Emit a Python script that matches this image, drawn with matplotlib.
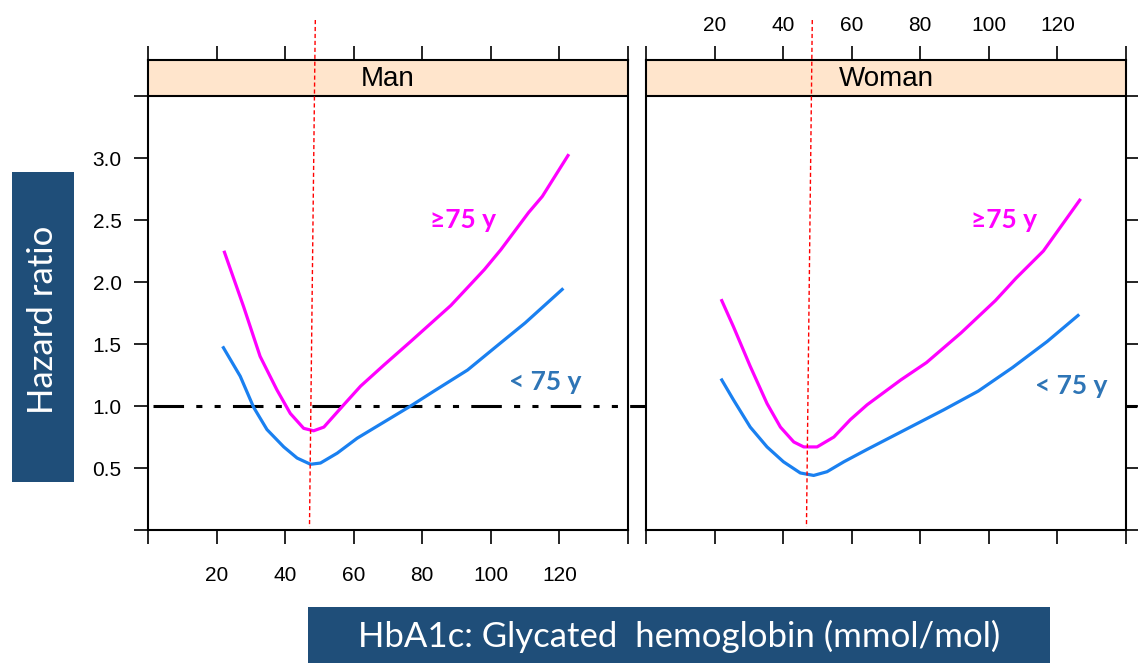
import matplotlib
matplotlib.use("Agg")
import matplotlib.pyplot as plt
import matplotlib.transforms as mtransforms
from matplotlib.patches import Rectangle
from matplotlib.lines import Line2D

# --- data ---
panels = ["Man", "Woman"]

man_old_x = [22.3, 27.9, 32.7, 37.6, 41.5, 45.4, 48.3, 51.3, 57.1, 62.0, 68.8, 76.6, 88.3, 98.1, 102.9, 111.0, 115.0, 122.5]
man_old_y = [2.24, 1.80, 1.40, 1.13, 0.94, 0.82, 0.80, 0.83, 1.01, 1.16, 1.33, 1.52, 1.81, 2.10, 2.26, 2.56, 2.69, 3.02]
man_young_x = [22.0, 26.9, 30.8, 34.7, 39.6, 43.5, 47.4, 50.3, 55.2, 61.0, 68.8, 76.6, 83.4, 93.2, 102.9, 110.0, 120.8]
man_young_y = [1.47, 1.24, 0.99, 0.81, 0.67, 0.58, 0.53, 0.54, 0.62, 0.74, 0.87, 1.00, 1.12, 1.29, 1.51, 1.67, 1.94]

woman_old_x = [22.1, 25.5, 30.4, 35.3, 39.2, 43.1, 46.0, 49.9, 54.8, 59.6, 64.5, 74.3, 81.8, 91.9, 101.9, 107.9, 115.9, 126.5]
woman_old_y = [1.85, 1.64, 1.32, 1.02, 0.83, 0.71, 0.67, 0.67, 0.75, 0.89, 1.01, 1.21, 1.35, 1.59, 1.85, 2.03, 2.25, 2.66]
woman_young_x = [22.1, 25.5, 30.4, 35.3, 40.1, 45.0, 48.9, 52.8, 57.7, 64.5, 74.3, 86.9, 96.9, 106.9, 117.0, 126.0]
woman_young_y = [1.21, 1.05, 0.83, 0.67, 0.55, 0.46, 0.44, 0.47, 0.55, 0.65, 0.79, 0.97, 1.12, 1.31, 1.52, 1.73]

# red reference lines (top x, bottom x), slightly slanted in the original
ref_lines = [(48.8, 47.1), (48.5, 46.8)]

old_label_pos = [(91.8, 2.5), (104.4, 2.5)]
young_label_pos = [(115.8, 1.19), (124.0, 1.16)]

xticks = [0, 20, 40, 60, 80, 100, 120, 140]
xticklabels = ["", "20", "40", "60", "80", "100", "120", ""]
yticks = [0, 0.5, 1.0, 1.5, 2.0, 2.5, 3.0, 3.5]
yticklabels = ["", "0.5", "1.0", "1.5", "2.0", "2.5", "3.0", ""]

W, H = 1138, 663
fig = plt.figure(figsize=(W / 100, H / 100), dpi=100)

magenta = "#FF00FF"
blue = "#1A80F0"
label_blue = "#2E75B6"
box_blue = "#1F4E79"
strip_col = "#FFE5CC"

def fx(px):
    return px / W

def fy(py):
    return 1 - py / H

ax1 = fig.add_axes([fx(148), fy(530), fx(628) - fx(148), fy(60) - fy(530)])
ax2 = fig.add_axes([fx(646), fy(530), fx(1126) - fx(646), fy(60) - fy(530)])
axes = [ax1, ax2]

curves = [
    (man_old_x, man_old_y, man_young_x, man_young_y),
    (woman_old_x, woman_old_y, woman_young_x, woman_young_y),
]

tickfont = dict(family="Liberation Sans", size=15)
label_font = ["Lato", "DejaVu Sans"]

for i, ax in enumerate(axes):
    ox, oy, yx, yy = curves[i]
    ax.plot(ox, oy, color=magenta, lw=2.3, zorder=3, solid_joinstyle="round")
    ax.plot(yx, yy, color=blue, lw=2.3, zorder=3, solid_joinstyle="round")
    ax.set_xlim(0, 140)
    ax.set_ylim(0, 3.5 + 36 / 124)

    # strip
    ax.add_patch(Rectangle((0, 3.5), 140, 36 / 124, facecolor=strip_col, edgecolor="none", zorder=1))
    ax.axhline(3.5, color="black", lw=1.5, zorder=2)
    ax.text(70, 3.5 + 17 / 124, panels[i], ha="center", va="center",
            fontsize=20, family="Liberation Sans")

    for sp in ax.spines.values():
        sp.set_linewidth(1.5)

    ax.set_xticks(xticks)
    ax.set_yticks(yticks)
    ax.tick_params(axis="both", direction="out", length=10, width=1.2, colors="black")
    ax.tick_params(axis="x", top=True, bottom=True)

    ax.text(*old_label_pos[i], "\u226575 y", color=magenta, fontsize=19, fontweight="bold",
            family=label_font, ha="center", va="center")
    ax.text(*young_label_pos[i], "< 75 y", color=label_blue, fontsize=19, fontweight="bold",
            family=label_font, ha="center", va="center")

    # red dotted reference line, from above the panel down to the x axis
    tr = mtransforms.blended_transform_factory(ax.transData, fig.transFigure)
    top_x, bot_x = ref_lines[i]
    ax.add_line(Line2D([top_x, bot_x], [fy(20), fy(527)], transform=tr, color="red",
                       lw=1, ls=(0, (3, 2)), clip_on=False, zorder=4))

# left panel: labels bottom + left
ax1.tick_params(axis="x", labelbottom=True, labeltop=False, pad=16)
ax1.set_xticklabels(xticklabels, fontdict=tickfont)
ax1.tick_params(axis="y", left=True, right=False, labelleft=True, pad=9)
ax1.set_yticklabels(yticklabels, fontdict=tickfont)

# right panel: labels top, ticks right
ax2.tick_params(axis="x", labelbottom=False, labeltop=True, pad=8)
ax2.set_xticklabels(xticklabels, fontdict=tickfont)
ax2.tick_params(axis="y", left=False, right=True, labelleft=False, labelright=False)

# hazard ratio = 1 reference line running across both panels
tr1 = mtransforms.blended_transform_factory(fig.transFigure, ax1.transData)
ax1.add_line(Line2D([fx(153), 1.0], [1.0, 1.0], transform=tr1, color="black", lw=2.2,
                    ls=(0, (10, 4, 2, 4, 2, 4)), clip_on=False, zorder=2))

# axis title boxes
fig.patches.append(Rectangle((fx(12), fy(482)), fx(74) - fx(12), fy(172) - fy(482),
                             transform=fig.transFigure, facecolor=box_blue, edgecolor="none"))
fig.text(fx(43), fy(320), "Hazard ratio", rotation=90, color="white", fontsize=25,
         family=label_font, ha="center", va="center")
fig.patches.append(Rectangle((fx(308), 0), fx(1050) - fx(308), fy(607),
                             transform=fig.transFigure, facecolor=box_blue, edgecolor="none"))
fig.text(fx(679), fy(636), "HbA1c: Glycated  hemoglobin (mmol/mol)", color="white", fontsize=25,
         family=label_font, ha="center", va="center")

fig.savefig("out.png", dpi=100)
